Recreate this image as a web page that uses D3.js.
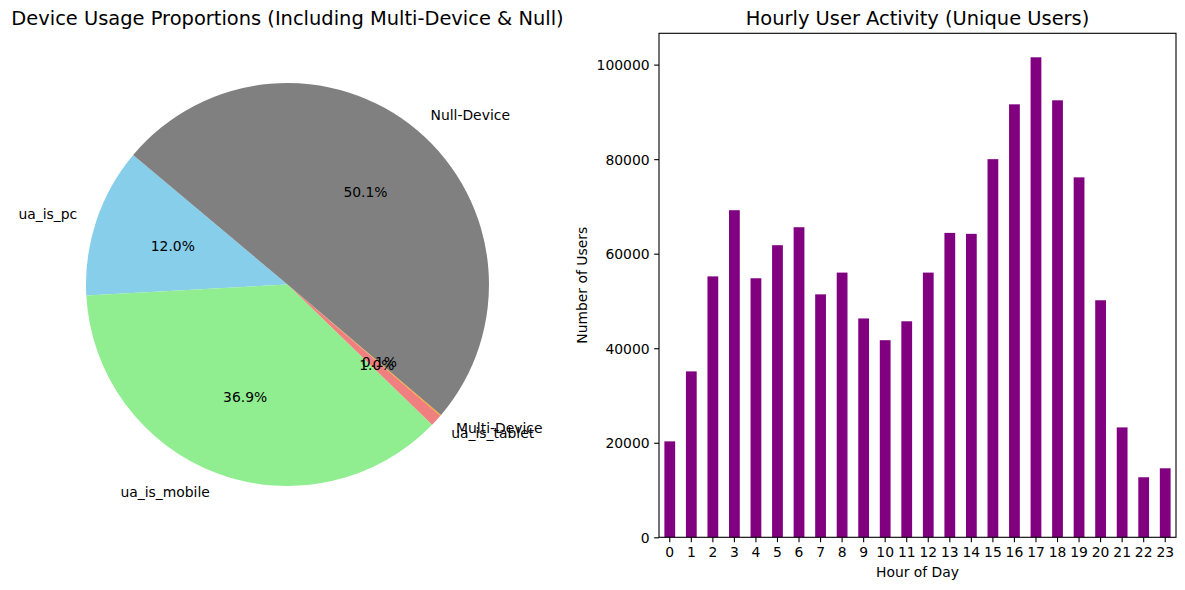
<!DOCTYPE html>
<html>
<head>
<meta charset="utf-8">
<script src="https://cdn.jsdelivr.net/npm/d3@7"></script>
<style>
  html, body { margin: 0; padding: 0; background: #fff; }
  svg { display: block; font-family: "DejaVu Sans", sans-serif; }
</style>
</head>
<body>
<svg id="chart" width="1185" height="590"></svg>
<script>
// ---- Data ----
const deviceLabels = ["ua_is_pc", "ua_is_mobile", "ua_is_tablet", "Multi-Device", "Null-Device"];
const deviceShares = [11.98, 36.87, 0.97, 0.08, 50.10];
const deviceColors = ["#87CEEB", "#90EE90", "#F08080", "#FFA500", "#808080"];

const hours = ["0","1","2","3","4","5","6","7","8","9","10","11","12","13","14","15","16","17","18","19","20","21","22","23"];
const hourlyUsers = [20300, 35100, 55200, 69200, 54800, 61800, 65600, 51400, 56000, 46300, 41700, 45700,
                     56000, 64400, 64200, 80000, 91600, 101550, 92450, 76150, 50150, 23250, 12700, 14600];
const yTicks = [0, 20000, 40000, 60000, 80000, 100000];

const svg = d3.select("#chart");
const FS = 13.9;

// ---- Pie ----
const cx = 287.5, cy = 284.5, R = 201.5;
const startDeg = 140;
const toRad = d => d * Math.PI / 180;
const pie = d3.pie().sort(null).value(d => d.v)
  .startAngle(toRad(90 - startDeg))
  .endAngle(toRad(90 - startDeg - 360));
const pieData = pie(deviceLabels.map((l, i) => ({label: l, v: deviceShares[i], color: deviceColors[i]})));
const total = d3.sum(deviceShares);
const arc = d3.arc().innerRadius(0).outerRadius(R);
const pctArc = d3.arc().innerRadius(0.6 * R).outerRadius(0.6 * R);
const lblArc = d3.arc().innerRadius(1.1 * R).outerRadius(1.1 * R);

const gp = svg.append("g").attr("transform", `translate(${cx},${cy})`);
gp.selectAll("path.slice").data(pieData).join("path")
  .attr("class", "slice")
  .attr("d", arc)
  .attr("fill", d => d.data.color);

gp.selectAll("text.lbl").data(pieData).join("text")
  .attr("class", "lbl")
  .attr("x", d => lblArc.centroid(d)[0])
  .attr("y", d => lblArc.centroid(d)[1])
  .attr("dy", "0.32em")
  .attr("text-anchor", d => lblArc.centroid(d)[0] > 0 ? "start" : "end")
  .attr("font-size", FS)
  .text(d => d.data.label);

gp.selectAll("text.pct").data(pieData).join("text")
  .attr("class", "pct")
  .attr("x", d => pctArc.centroid(d)[0])
  .attr("y", d => pctArc.centroid(d)[1])
  .attr("dy", "0.32em")
  .attr("text-anchor", "middle")
  .attr("font-size", FS)
  .text(d => (d.data.v / total * 100).toFixed(1) + "%");

svg.append("text")
  .attr("x", cx).attr("y", 25)
  .attr("text-anchor", "middle")
  .attr("font-size", 19.44)
  .text("Device Usage Proportions (Including Multi-Device & Null)");

// ---- Bar chart ----
const axL = 659, axR = 1176, axT = 33.3, axB = 537.3;
const x = d3.scaleBand().domain(hours).range([axL, axR]).paddingInner(0.5).paddingOuter(0.25);
const y = d3.scaleLinear().domain([0, d3.max(hourlyUsers) * 1.05]).range([axB, axT]);

svg.append("g").selectAll("rect").data(hours).join("rect")
  .attr("x", (h) => x(h))
  .attr("y", (h, i) => y(hourlyUsers[i]))
  .attr("width", x.bandwidth())
  .attr("height", (h, i) => axB - y(hourlyUsers[i]))
  .attr("fill", "#800080");

const xAxis = svg.append("g").attr("transform", `translate(0,${axB})`)
  .call(d3.axisBottom(x).tickSizeInner(4.86).tickSizeOuter(0).tickPadding(4.5));
const yAxis = svg.append("g").attr("transform", `translate(${axL},0)`)
  .call(d3.axisLeft(y).tickValues(yTicks).tickFormat(d3.format("d")).tickSizeInner(4.86).tickSizeOuter(0).tickPadding(4.5));
[xAxis, yAxis].forEach(g => {
  g.select(".domain").remove();
  g.selectAll("line").attr("stroke", "#000").attr("stroke-width", 1.1);
  g.selectAll("text").attr("font-size", FS).attr("fill", "#000").attr("font-family", "DejaVu Sans");
});
xAxis.selectAll("text").attr("dy", "0.76em");
yAxis.selectAll("text").attr("dy", "0.35em");

// frame
svg.append("rect")
  .attr("x", axL).attr("y", axT)
  .attr("width", axR - axL).attr("height", axB - axT)
  .attr("fill", "none").attr("stroke", "#000").attr("stroke-width", 1.1);

svg.append("text")
  .attr("x", (axL + axR) / 2).attr("y", 577)
  .attr("text-anchor", "middle").attr("font-size", FS)
  .text("Hour of Day");
svg.append("text")
  .attr("transform", `translate(587,${(axT + axB) / 2}) rotate(-90)`)
  .attr("text-anchor", "middle").attr("font-size", FS)
  .text("Number of Users");
svg.append("text")
  .attr("x", (axL + axR) / 2).attr("y", 25)
  .attr("text-anchor", "middle").attr("font-size", 19.44)
  .text("Hourly User Activity (Unique Users)");
</script>
</body>
</html>
